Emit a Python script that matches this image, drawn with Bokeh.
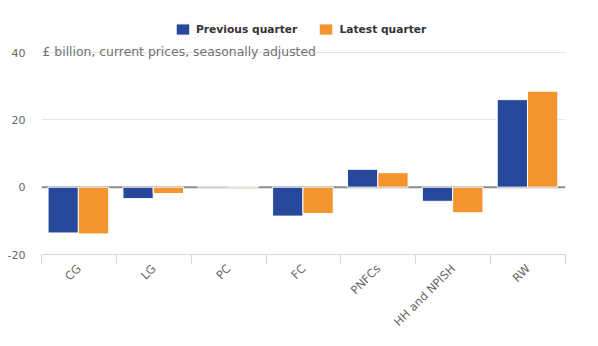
import numpy as np
from bokeh.plotting import figure
from bokeh.models import (FixedTicker, Span, Label, Legend, LegendItem, Range1d)
from bokeh.embed import file_html
from bokeh.resources import INLINE

categories = ["CG", "LG", "PC", "FC", "PNFCs", "HH and NPISH", "RW"]
previous_quarter = [-13.6, -3.4, 0.3, -8.6, 5.3, -4.2, 26.0]
latest_quarter = [-13.9, -1.9, 0.1, -7.8, 4.3, -7.6, 28.5]
y_ticks = [-20, 0, 20, 40]
y_tick_labels = ["-20", "0", "20", "40"]
subtitle = "£ billion, current prices, seasonally adjusted"
series_names = ["Previous quarter", "Latest quarter"]
colors = ["#27479a", "#f4942f"]

FONT = "DejaVu Sans"
centers = [i + 0.5 for i in range(len(categories))]

# frame: value 40 at y=52, -20 at y=254 -> extend frame upward to y=8
px_per_unit = 202 / 60.0
y_top = 40 + 44 / px_per_unit

p = figure(width=598, height=346, output_backend="svg", toolbar_location=None,
           x_range=Range1d(0, len(categories)), y_range=Range1d(-20, y_top),
           min_border_left=41, min_border_right=33, min_border_top=8, min_border_bottom=92)
p.outline_line_color = None
p.background_fill_color = "white"

# grid
p.xgrid.visible = False
p.ygrid.ticker = FixedTicker(ticks=[20, 40])
p.ygrid.grid_line_color = "#e6e6e6"
p.ygrid.grid_line_width = 1

# zero line
p.add_layout(Span(location=0, dimension="width", line_color="#8c8c8c", line_width=2, level="underlay"))

r1 = p.vbar(x=[c - 0.21 for c in centers], top=previous_quarter, bottom=0, width=0.405,
            fill_color=colors[0], line_color="white", line_width=1)
r2 = p.vbar(x=[c + 0.195 for c in centers], top=latest_quarter, bottom=0, width=0.405,
            fill_color=colors[1], line_color="white", line_width=1)

# x axis
xa = p.xaxis[0]
xa.ticker = FixedTicker(ticks=centers, minor_ticks=list(range(len(categories) + 1)))
xa.major_label_overrides = {c: name for c, name in zip(centers, categories)}
xa.major_label_orientation = np.pi / 4
xa.major_tick_out = 0
xa.major_tick_in = 0
xa.minor_tick_out = 9
xa.minor_tick_in = 0
xa.minor_tick_line_color = "#ccd6eb"
xa.axis_line_color = "#ccd6eb"
xa.major_label_text_font = FONT
xa.major_label_text_font_size = "11.5px"
xa.major_label_text_color = "#666666"
xa.major_label_standoff = 3

# y axis
ya = p.yaxis[0]
ya.ticker = FixedTicker(ticks=y_ticks)
ya.major_label_overrides = {t: s for t, s in zip(y_ticks, y_tick_labels)}
ya.axis_line_color = None
ya.major_tick_line_color = None
ya.major_tick_out = 0
ya.major_tick_in = 0
ya.minor_tick_line_color = None
ya.major_label_text_font = FONT
ya.major_label_text_font_size = "11px"
ya.major_label_text_color = "#666666"
ya.major_label_standoff = 16

# subtitle
p.add_layout(Label(x=1, y=203, x_units="screen", y_units="screen", text=subtitle,
                   text_font=FONT, text_font_size="12.4px", text_color="#707070",
                   text_baseline="alphabetic"))

legend = Legend(items=[LegendItem(label=series_names[0], renderers=[r1]),
                       LegendItem(label=series_names[1], renderers=[r2])],
                location=(133, 218), orientation="horizontal",
                glyph_width=17, glyph_height=14, label_standoff=5, spacing=20,
                padding=0, margin=0, border_line_color=None, background_fill_alpha=0,
                label_text_font=FONT, label_text_font_size="10.7px", label_text_font_style="bold",
                label_text_color="#333333", label_height=14)
p.add_layout(legend)

open("out.html", "w").write(file_html(p, INLINE))
